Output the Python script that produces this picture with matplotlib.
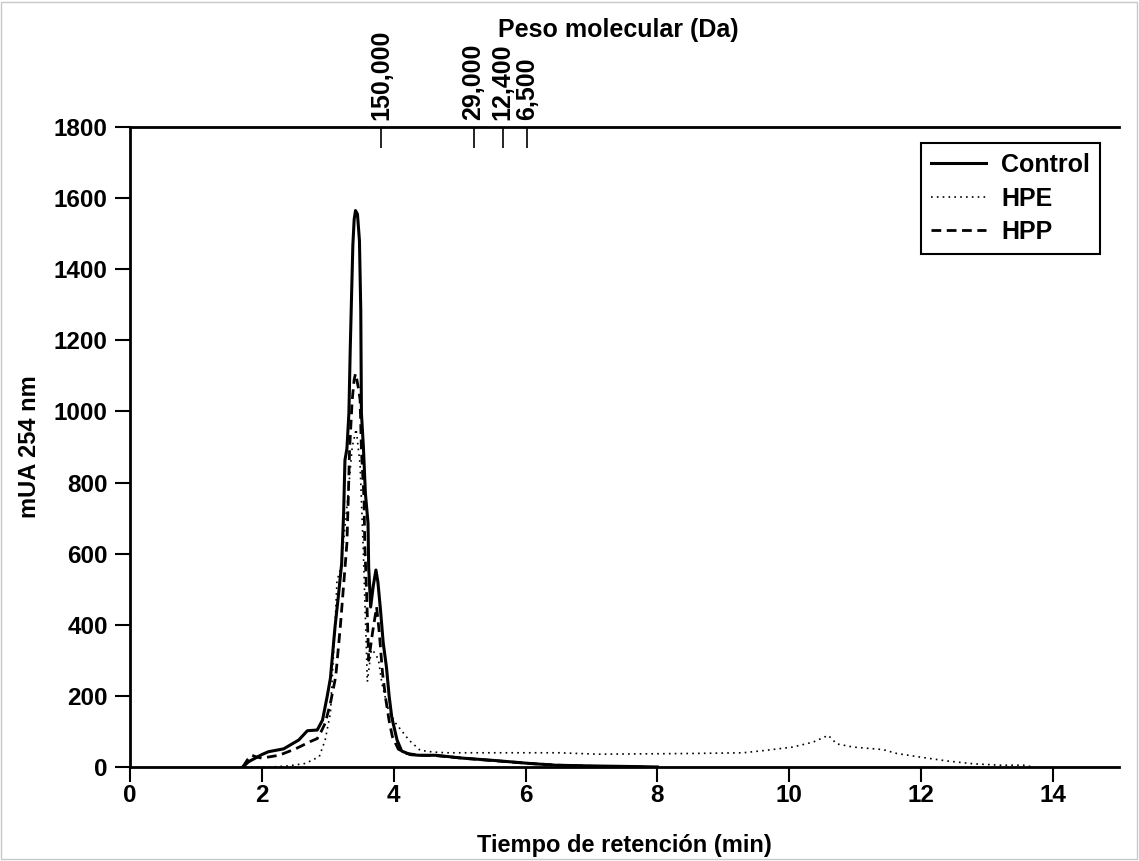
import matplotlib
matplotlib.use("Agg")
import matplotlib.pyplot as plt
from matplotlib.patches import Rectangle

plt.rcParams["font.family"] = ["Liberation Sans", "DejaVu Sans"]
plt.rcParams["font.weight"] = "bold"

# Control (linea continua)
control_t = [1.71, 1.80, 1.90, 2.00, 2.10, 2.33, 2.56, 2.69, 2.84, 2.92, 2.99, 3.04,
             3.11, 3.16, 3.21, 3.24, 3.26, 3.29, 3.32, 3.34, 3.36, 3.38, 3.40, 3.42,
             3.45, 3.48, 3.50, 3.51, 3.54, 3.57, 3.61, 3.62, 3.65, 3.69, 3.73, 3.76,
             3.80, 3.84, 3.89, 3.93, 3.97, 4.05, 4.12, 4.25, 4.38, 4.64, 5.04, 5.55,
             6.06, 6.46, 7.00, 7.75, 8.00]
control_y = [0, 15, 25, 35, 43, 51, 76, 102, 104, 132, 198, 250,
             395, 480, 572, 714, 863, 895, 995, 1173, 1323, 1468, 1540, 1565,
             1555, 1480, 1285, 995, 900, 770, 686, 562, 450, 510, 554, 520,
             440, 350, 280, 200, 140, 76, 45, 35, 33, 33, 25, 18,
             10, 5, 3, 1, 0]

# HPE (punteado)
hpe_t = [1.75, 2.15, 2.40, 2.66, 2.87, 2.96, 3.04, 3.11, 3.14, 3.20, 3.30, 3.37,
         3.43, 3.49, 3.54, 3.60, 3.66, 3.72, 3.77, 3.82, 3.92, 4.03, 4.23, 4.40,
         4.60, 4.80, 5.50, 6.50, 7.10, 8.50, 9.30, 9.65, 10.05, 10.36, 10.59, 10.72,
         10.97, 11.42, 11.63, 11.98, 12.39, 12.79, 13.20, 13.55, 13.70]
hpe_y = [0, 0, 3, 10, 29, 76, 152, 400, 525, 560, 750, 900,
         950, 850, 600, 240, 330, 320, 300, 235, 160, 123, 76, 47,
         42, 40, 40, 40, 36, 38, 40, 47, 56, 70, 89, 65,
         56, 49, 38, 28, 17, 9, 5, 5, 0]

# HPP (discontinua)
hpp_t = [1.71, 1.78, 1.85, 1.92, 2.00, 2.26, 2.51, 2.74, 2.84, 2.90, 2.96, 3.04,
         3.12, 3.19, 3.27, 3.29, 3.31, 3.33, 3.37, 3.40, 3.42, 3.44, 3.47, 3.49,
         3.51, 3.55, 3.56, 3.59, 3.62, 3.68, 3.74, 3.78, 3.83, 3.88, 3.93, 3.98,
         4.07, 4.20, 4.40, 4.64, 5.04, 5.50, 6.06, 6.50, 7.00, 7.75]
hpp_y = [0, 20, 33, 28, 25, 33, 51, 72, 80, 100, 123, 180,
         254, 395, 582, 630, 751, 891, 1032, 1090, 1106, 1090, 1060, 1032,
         891, 751, 630, 480, 300, 380, 450, 380, 264, 190, 130, 85,
         50, 38, 33, 32, 25, 18, 10, 5, 2, 0]

# marcadores de peso molecular (eje superior)
mw_pos = [3.81, 5.21, 5.65, 6.02]
mw_labels = ["150,000", "29,000", "12,400", "6,500"]

fig = plt.figure(figsize=(11.39, 8.61), dpi=100)
ax = fig.add_axes([130 / 1139, 1 - 767 / 861, 989 / 1139, 640 / 861])

ax.plot(control_t, control_y, color="black", lw=2.2, ls="-", label="Control")
ax.plot(hpe_t, hpe_y, color="black", lw=1.2, ls=(0, (1, 2.5)), label="HPE")
ax.plot(hpp_t, hpp_y, color="black", lw=2.0, ls=(0, (3.5, 2)), label="HPP")

ax.set_xlim(0, 15)
ax.set_ylim(0, 1800)
ax.set_xticks(range(0, 15, 2))
ax.set_yticks(range(0, 1801, 200))
ax.tick_params(axis="both", direction="out", length=11, width=1.5, labelsize=17.5)
ax.tick_params(axis="x", pad=1)
ax.tick_params(axis="y", pad=5)
for lab in ax.get_xticklabels() + ax.get_yticklabels():
    lab.set_fontweight("bold")

ax.spines["right"].set_visible(False)
for s in ["left", "bottom", "top"]:
    ax.spines[s].set_linewidth(2)

ax.set_xlabel("Tiempo de retención (min)", fontsize=17, fontweight="bold", labelpad=20)
ax.set_ylabel("mUA 254 nm", fontsize=17, fontweight="bold", labelpad=9)

top = ax.secondary_xaxis("top")
top.set_xticks(mw_pos)
top.set_xticklabels(mw_labels, rotation=90, fontsize=18, fontweight="bold")
top.tick_params(direction="in", length=15, width=1.2, pad=5)
fig.text(618 / 1139, 1 - 30 / 861, "Peso molecular (Da)", fontsize=18, fontweight="bold",
         ha="center", va="center")

leg = ax.legend(loc="upper right", bbox_to_anchor=(0.981, 0.975), borderaxespad=0,
                fancybox=False, framealpha=1, edgecolor="black",
                handlelength=2.2, handletextpad=0.6, labelspacing=0.38,
                prop={"weight": "bold", "size": 18})
leg.get_frame().set_linewidth(1.5)

fig.patches.append(Rectangle((0.001, 0.002), 0.997, 0.996, transform=fig.transFigure,
                             fill=False, edgecolor="#c8c8c8", lw=1))

fig.savefig("out.png", dpi=100)
